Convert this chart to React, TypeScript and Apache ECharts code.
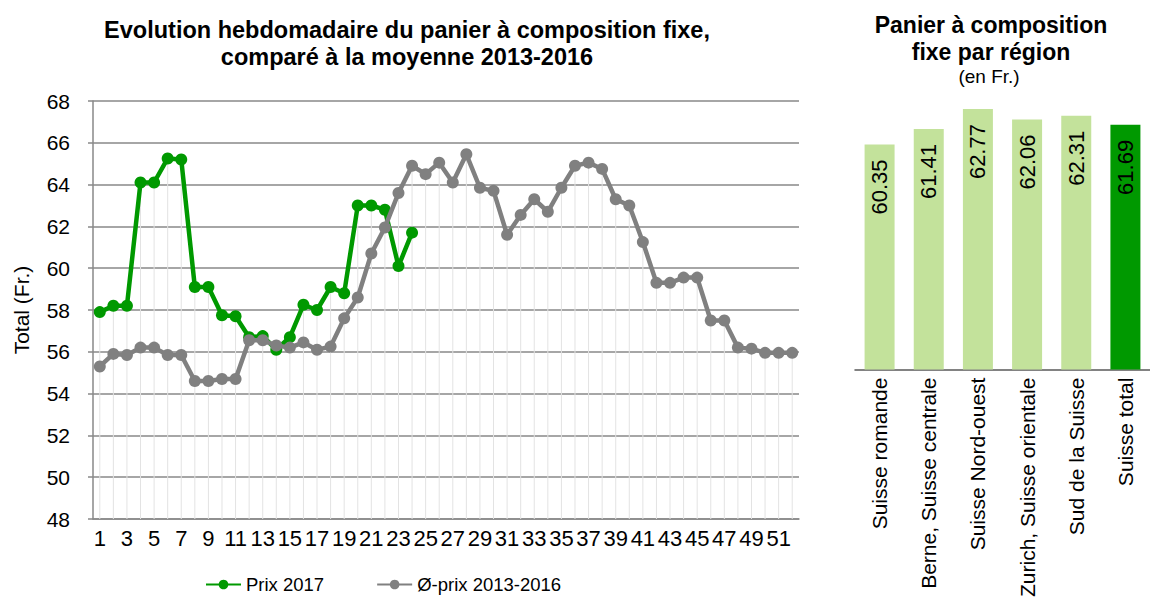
import React, { useEffect, useRef } from "react";
import * as echarts from "echarts";

const weeks = [
  "1", "2", "3", "4", "5", "6", "7", "8", "9", "10", "11", "12", "13",
  "14", "15", "16", "17", "18", "19", "20", "21", "22", "23", "24", "25", "26",
  "27", "28", "29", "30", "31", "32", "33", "34", "35", "36", "37", "38", "39",
  "40", "41", "42", "43", "44", "45", "46", "47", "48", "49", "50", "51", "52",
];

const prix2017 = [
  57.9, 58.2, 58.2, 64.1, 64.1, 65.25, 65.2, 59.1, 59.1, 57.75, 57.7, 56.7,
  56.75, 56.1, 56.7, 58.25, 58.0, 59.1, 58.8, 63.0, 63.0, 62.8, 60.1, 61.7,
];

const moyenne = [
  55.3, 55.9, 55.85, 56.2, 56.2, 55.85, 55.85, 54.6, 54.6, 54.7,
  54.7, 56.55, 56.55, 56.3, 56.2, 56.45, 56.1, 56.25, 57.6, 58.6,
  60.7, 61.95, 63.6, 64.9, 64.5, 65.05, 64.1, 65.45, 63.85, 63.7,
  61.6, 62.55, 63.3, 62.7, 63.85, 64.9, 65.05, 64.75, 63.3, 63.0,
  61.25, 59.3, 59.3, 59.55, 59.55, 57.5, 57.5, 56.2, 56.15, 55.95,
  55.95, 55.95,
];

const regions = [
  "Suisse romande",
  "Berne, Suisse centrale",
  "Suisse Nord-ouest",
  "Zurich, Suisse orientale",
  "Sud de la Suisse",
  "Suisse total",
];
const regionValues = [60.35, 61.41, 62.77, 62.06, 62.31, 61.69];

const yTicks = { min: 48, max: 68, interval: 2 };

const FONT = "'Liberation Sans', Arial, sans-serif";
const GREEN = "#009900";
const GRAY = "#808080";
const LIGHT = "#c3e29b";

export default function App() {
  const ref = useRef<HTMLDivElement>(null);

  useEffect(() => {
    if (!ref.current) return;
    const chart = echarts.init(ref.current, null, { renderer: "svg" });

    // drop lines: from the highest point of each week down to the axis
    const dropValues = weeks.map((_, i) => {
      const a = moyenne[i];
      const b = i < prix2017.length ? prix2017[i] : -Infinity;
      return Math.max(a, b);
    });

    const option: any = {
      animation: false,
      textStyle: { fontFamily: FONT, color: "#000" },
      title: [
        {
          text: "Evolution hebdomadaire du panier à composition fixe,\ncomparé à la moyenne 2013-2016",
          left: 402,
          top: 11,
          textAlign: "center",
          textStyle: {
            fontFamily: FONT,
            fontSize: 23.5,
            fontWeight: "bold",
            lineHeight: 27,
            color: "#000",
          },
        },
        {
          text: "Panier à composition\nfixe par région",
          left: 986,
          top: 6,
          textAlign: "center",
          textStyle: {
            fontFamily: FONT,
            fontSize: 23,
            fontWeight: "bold",
            lineHeight: 27,
            color: "#000",
          },
        },
        {
          text: "(en Fr.)",
          left: 984,
          top: 62,
          textAlign: "center",
          textStyle: {
            fontFamily: FONT,
            fontSize: 19,
            fontWeight: "normal",
            color: "#000",
          },
        },
      ],
      legend: {
        data: ["Prix 2017", "Ø-prix 2013-2016"],
        left: 200,
        top: 570,
        itemWidth: 35,
        itemHeight: 12,
        itemGap: 52,
        textStyle: { fontFamily: FONT, fontSize: 18.5, color: "#000" },
      },
      grid: [
        { left: 93, top: 101, width: 706, height: 418 },
        { left: 855, top: 91, width: 306, height: 283 },
      ],
      xAxis: [
        {
          type: "category",
          gridIndex: 0,
          data: weeks,
          boundaryGap: true,
          axisLine: { lineStyle: { color: "#898989", width: 1.5 } },
          axisTick: { show: false },
          axisLabel: {
            interval: 1,
            fontSize: 22,
            color: "#000",
            fontFamily: FONT,
            margin: 8,
          },
          splitLine: { show: false },
        },
        {
          type: "category",
          gridIndex: 1,
          data: regions,
          axisLine: { lineStyle: { color: "#595959", width: 1.5 } },
          axisTick: { show: false },
          axisLabel: {
            interval: 0,
            rotate: 90,
            fontSize: 21,
            color: "#000",
            fontFamily: FONT,
            margin: 8,
          },
        },
      ],
      yAxis: [
        {
          type: "value",
          gridIndex: 0,
          min: yTicks.min,
          max: yTicks.max,
          interval: yTicks.interval,
          name: "Total (Fr.)",
          nameLocation: "middle",
          nameGap: 61,
          nameTextStyle: { fontSize: 21, color: "#000", fontFamily: FONT },
          axisLine: { show: true, lineStyle: { color: "#898989", width: 1.5 } },
          axisTick: { show: true, length: 5, lineStyle: { color: "#898989", width: 1.5 } },
          axisLabel: { fontSize: 21, color: "#000", fontFamily: FONT, margin: 23 },
          splitLine: { show: true, lineStyle: { color: "#898989", width: 1.5 } },
        },
        {
          type: "value",
          gridIndex: 1,
          min: 45,
          max: 64,
          show: false,
          splitLine: { show: false },
        },
      ],
      series: [
        {
          name: "drop",
          type: "bar",
          xAxisIndex: 0,
          yAxisIndex: 0,
          data: dropValues,
          barWidth: 1,
          itemStyle: { color: "#e3e3e3" },
          silent: true,
          z: 1,
        },
        {
          name: "Prix 2017",
          type: "line",
          xAxisIndex: 0,
          yAxisIndex: 0,
          data: prix2017,
          symbol: "circle",
          symbolSize: 12,
          showSymbol: true,
          showAllSymbol: true,
          itemStyle: { color: GREEN },
          lineStyle: { color: GREEN, width: 4.5 },
          z: 3,
        },
        {
          name: "Ø-prix 2013-2016",
          type: "line",
          xAxisIndex: 0,
          yAxisIndex: 0,
          data: moyenne,
          symbol: "circle",
          symbolSize: 12,
          showSymbol: true,
          showAllSymbol: true,
          itemStyle: { color: GRAY },
          lineStyle: { color: GRAY, width: 4.5 },
          z: 4,
        },
        {
          name: "Régions",
          type: "bar",
          xAxisIndex: 1,
          yAxisIndex: 1,
          barWidth: 30,
          data: regionValues.map((v, i) => ({
            value: v,
            itemStyle: { color: i === regionValues.length - 1 ? GREEN : LIGHT },
          })),
          label: {
            show: true,
            position: "insideTop",
            distance: 15,
            rotate: 90,
            align: "right",
            verticalAlign: "middle",
            fontSize: 22,
            color: "#000",
            fontFamily: FONT,
            formatter: (p: any) => p.value.toFixed(2),
          },
        },
      ],
    };

    chart.setOption(option);
    return () => chart.dispose();
  }, []);

  return (
    <div
      ref={ref}
      style={{ position: "fixed", left: 0, top: 0, width: 1150, height: 600, background: "#fff" }}
    />
  );
}
